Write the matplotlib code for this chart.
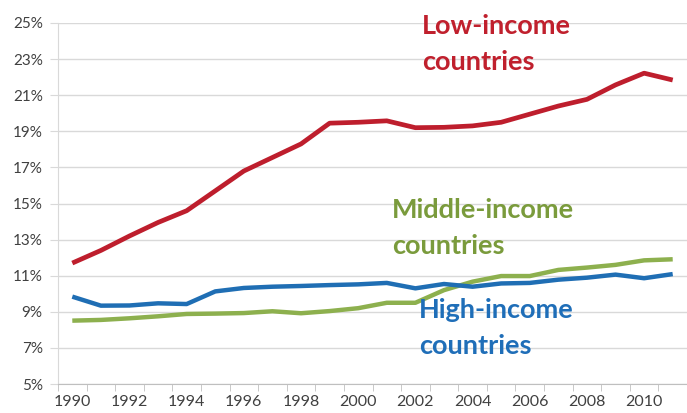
import matplotlib
matplotlib.use('Agg')
import matplotlib.pyplot as plt
import numpy as np

years = list(range(1990, 2012))
low_income = [11.7, 12.4, 13.2, 13.95, 14.6, 15.7, 16.8, 17.55, 18.3, 19.45, 19.5, 19.58,
              19.2, 19.22, 19.3, 19.5, 19.95, 20.4, 20.77, 21.57, 22.22, 21.84]
middle_income = [8.51, 8.55, 8.64, 8.75, 8.88, 8.9, 8.93, 9.03, 8.92, 9.04, 9.2, 9.5,
                 9.5, 10.2, 10.67, 10.98, 10.98, 11.32, 11.45, 11.6, 11.85, 11.91]
high_income = [9.84, 9.34, 9.35, 9.47, 9.43, 10.13, 10.32, 10.39, 10.43, 10.48, 10.52, 10.6,
               10.3, 10.54, 10.39, 10.57, 10.6, 10.78, 10.89, 11.06, 10.86, 11.09]
y_ticks = [5, 7, 9, 11, 13, 15, 17, 19, 21, 23, 25]

RED = '#BE1E2D'
GREEN = '#8DB04E'
BLUE = '#1F6EB4'

plt.rcParams['font.family'] = ['Lato', 'DejaVu Sans']

fig = plt.figure(figsize=(6.87, 4.13), dpi=100)
ax = fig.add_axes([58 / 687, 1 - 384 / 413, 629 / 687, 361 / 413])

x = np.arange(len(years))
ax.plot(x, middle_income, color=GREEN, lw=3.2, solid_capstyle='butt', zorder=3)
ax.plot(x, high_income, color=BLUE, lw=3.2, solid_capstyle='butt', zorder=4)
ax.plot(x, low_income, color=RED, lw=3.4, solid_capstyle='butt', zorder=5)

ax.set_xlim(-0.5, len(years) - 0.5)
ax.set_ylim(5, 25)
ax.set_yticks(y_ticks)
ax.set_yticklabels([f'{v}%' for v in y_ticks])
ax.set_xticks(x[::2])
ax.set_xticklabels([str(y) for y in years[::2]])
ax.set_xticks(np.arange(-0.5, len(years)), minor=True)
ax.tick_params(axis='x', which='major', length=0, pad=8, labelsize=11.5, colors='#404040')
ax.tick_params(axis='x', which='minor', length=5, color='#BFBFBF', direction='out')
ax.tick_params(axis='y', length=6, pad=5, labelsize=11, colors='#404040')
ax.tick_params(axis='y', color='#D9D9D9')

ax.grid(axis='y', color='#D9D9D9', lw=1)
ax.set_axisbelow(True)
for side in ['top', 'right']:
    ax.spines[side].set_visible(False)
ax.spines['left'].set_color('#D9D9D9')
ax.spines['bottom'].set_color('#BFBFBF')

# series labels, one text per line, baselines
label_kw = dict(fontsize=19.5, fontweight='bold', va='baseline', ha='left')
ax.text(12.24, 24.39, 'Low-income', color='#C0202D', **label_kw)
ax.text(12.24, 22.40, 'countries', color='#C0202D', **label_kw)
ax.text(11.18, 14.21, 'Middle-income', color='#7A9B3C', **label_kw)
ax.text(11.18, 12.22, 'countries', color='#7A9B3C', **label_kw)
ax.text(12.13, 8.64, 'High-income', color='#1F6EB8', **label_kw)
ax.text(12.13, 6.66, 'countries', color='#1F6EB8', **label_kw)

fig.savefig('out.png', dpi=100)
